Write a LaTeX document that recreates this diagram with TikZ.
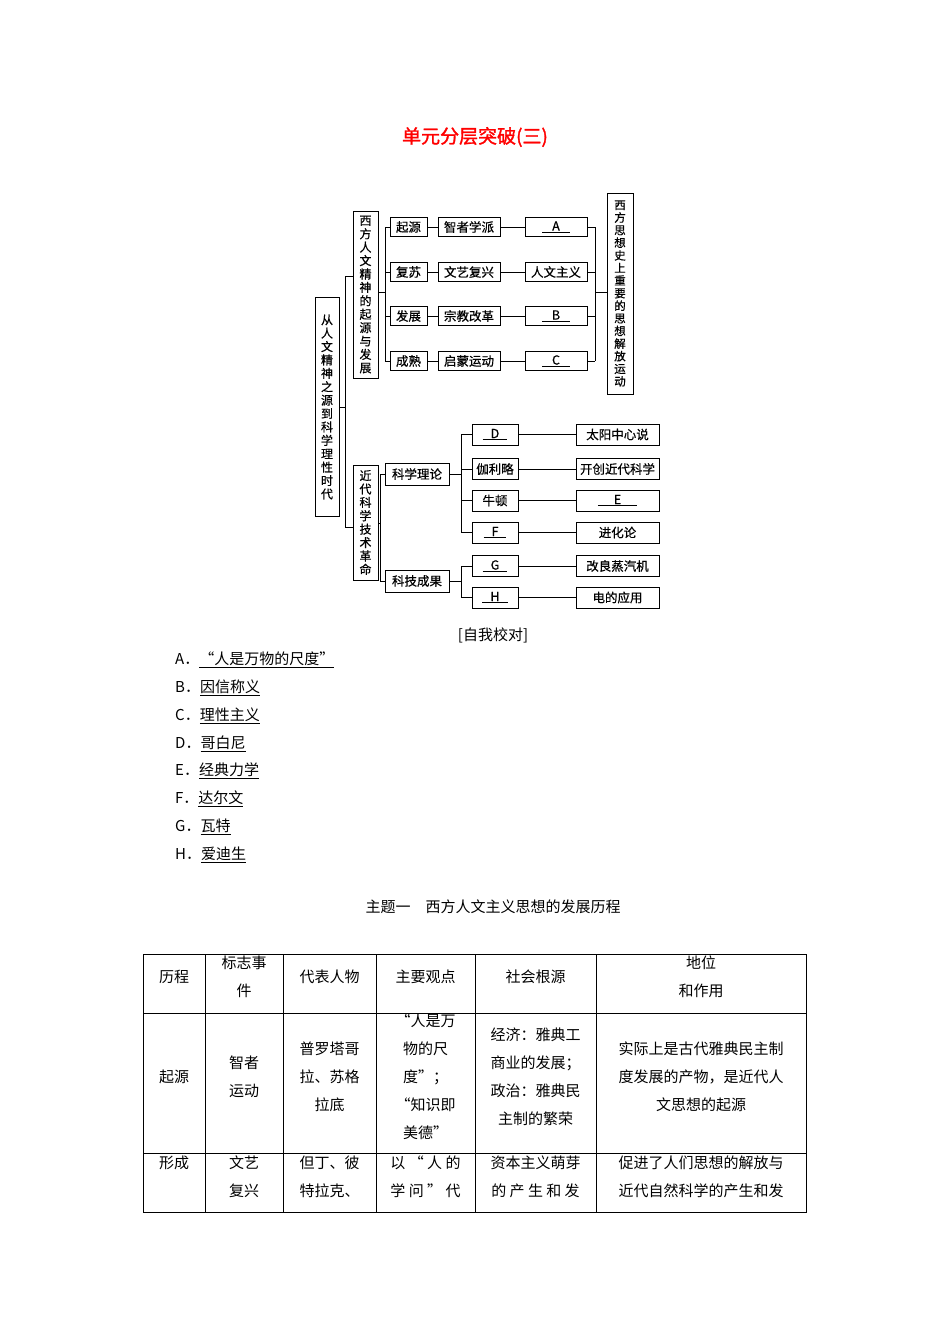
\documentclass[tikz,border=0pt]{standalone}
\usepackage{fontspec}
\newfontfamily\cjk{Noto Sans CJK SC}
\newfontfamily\cjkb[FakeBold=1.5]{Noto Sans CJK SC}
\newfontfamily\cjkm[FakeBold=0.6]{Noto Sans CJK SC}
\begin{document}
\begin{tikzpicture}[x=1pt,y=-1pt,
  bx/.style={draw,line width=0.9pt,inner sep=0pt,font=\cjkm\fontsize{12.5}{13}\selectfont},
  vb/.style={bx,align=center,font=\cjkm\fontsize{12}{13.4}\selectfont},
  ln/.style={line width=0.7pt},
  tx/.style={inner sep=0pt,align=center,font=\cjk\fontsize{15}{28}\selectfont},
  lt/.style={inner sep=0pt,anchor=west,font=\cjk\fontsize{15}{16}\selectfont}]
\useasboundingbox (0,0) rectangle (950,1344);
\node[font=\cjkb\fontsize{19}{22}\selectfont,text=red] (title) at (475,137) {单元分层突破(三)};
% left
\node[vb,minimum width=24,minimum height=219] (root) at (327,407) {从\\人\\文\\精\\神\\之\\源\\到\\科\\学\\理\\性\\时\\代};
\node[vb,minimum width=25,minimum height=167] (g1) at (365.5,294.5) {西\\方\\人\\文\\精\\神\\的\\起\\源\\与\\发\\展};
\node[vb,minimum width=25,minimum height=115] (g2) at (365.5,522.5) {近\\代\\科\\学\\技\\术\\革\\命};
\node[vb,minimum width=26,minimum height=201,font=\cjkm\fontsize{11.5}{12.6}\selectfont] (rt) at (620,293.5) {西\\方\\思\\想\\史\\上\\重\\要\\的\\思\\想\\解\\放\\运\\动};
\coordinate (j0) at (345,407);
\draw[ln] (root.east) -- (j0) (345,276) -- (345,527) (345,276) -- (g1.west|-0,276) (345,527)--(g2.west|-0,527);
% group1 rows
\foreach \y/\a/\b/\c/\n in {227/起源/智者学派/{\underline{\hspace{10pt}A\hspace{10pt}}}/1,272/复苏/文艺复兴/人文主义/2,316/发展/宗教改革/{\underline{\hspace{10pt}B\hspace{10pt}}}/3,361/成熟/启蒙运动/{\underline{\hspace{10pt}C\hspace{10pt}}}/4}{
  \node[bx,minimum width=37,minimum height=19] (p\n) at (408.5,\y) {\a};
  \node[bx,minimum width=62,minimum height=19] (q\n) at (469,\y) {\b};
  \node[bx,minimum width=62,minimum height=19] (r\n) at (556,\y) {\c};
  \draw[ln] (p\n) -- (q\n); \draw[ln] (q\n) -- (r\n);
  \draw[ln] (385,\y) -- (p\n.west);
  \draw[ln] (r\n.east) -- (595,\y);
}
\draw[ln] (385,227) -- (385,361) (g1.east|-0,292) -- (385,292);
\draw[ln] (595,227) -- (595,361) (595,292) -- (rt.west|-0,292);
% group2
\node[bx,minimum width=64,minimum height=22] (s1) at (417,474) {科学理论};
\node[bx,minimum width=64,minimum height=22] (s2) at (417,581) {科技成果};
\draw[ln] (380,474) -- (380,581) (g2.east|-0,523) -- (380,523) (380,474) -- (s1.west) (380,581) -- (s2.west);
\foreach \y/\a/\b/\n in {434.5/{\underline{\hspace{8pt}D\hspace{8pt}}}/太阳中心说/1,469/伽利略/开创近代科学/2,500.5/牛顿/{\underline{\hspace{16pt}E\hspace{16pt}}}/3,532.5/{\underline{\hspace{8pt}F\hspace{8pt}}}/进化论/4,566/{\underline{\hspace{8pt}G\hspace{8pt}}}/改良蒸汽机/5,597.5/{\underline{\hspace{8pt}H\hspace{8pt}}}/电的应用/6}{
  \node[bx,minimum width=46,minimum height=21] (u\n) at (495,\y) {\a};
  \node[bx,minimum width=83,minimum height=21] (v\n) at (617.5,\y) {\b};
  \draw[ln] (u\n) -- (v\n); \draw[ln] (461,\y) -- (u\n.west);
}
\draw[ln] (461,434.5) -- (461,532.5) (s1.east) -- (461,474);
\draw[ln] (461,566) -- (461,597.5) (s2.east) -- (461,581);
% answers
\node[tx,font=\cjk\fontsize{15}{16}\selectfont] (zw) at (493,635) {[自我校对]};
\foreach \i/\l/\t in {0/A/“人是万物的尺度”,1/B/因信称义,2/C/理性主义,3/D/哥白尼,4/E/经典力学,5/F/达尔文,6/G/瓦特,7/H/爱迪生}{
  \node[lt] (ans\i) at (175,660+27.8*\i) {\l．\underline{\t}};
}
\node[tx,font=\cjk\fontsize{15}{16}\selectfont] (zt) at (493,907) {主题一\quad 西方人文主义思想的发展历程};
% table
\draw[line width=0.8pt] (143,954) rectangle (806,1212);
\foreach \x in {205,283,376,475,596} \draw[line width=0.8pt] (\x,954) -- (\x,1212);
\draw[line width=0.8pt] (143,1013) -- (806,1013) (143,1153) -- (806,1153);
\node[tx] (h1) at (174,977) {历程};
\node[tx] (h2) at (244,977) {标志事\\件};
\node[tx] (h3) at (329.5,977) {代表人物};
\node[tx] (h4) at (425.5,977) {主要观点};
\node[tx] (h5) at (535.5,977) {社会根源};
\node[tx] (h6) at (701,977) {地位\\和作用};
\node[tx] (a1) at (174,1077) {起源};
\node[tx] (a2) at (244,1077) {智者\\运动};
\node[tx] (a3) at (329.5,1077) {普罗塔哥\\拉、苏格\\拉底};
\node[tx] (a4) at (425.5,1077) {“人是万\\物的尺\\度”；\\“知识即\\美德”};
\node[tx] (a5) at (535.5,1077) {经济：雅典工\\商业的发展；\\政治：雅典民\\主制的繁荣};
\node[tx] (a6) at (701,1077) {实际上是古代雅典民主制\\度发展的产物，是近代人\\文思想的起源};
\node[tx] (b1) at (174,1163) {形成};
\node[tx] (b2) at (244,1177) {文艺\\复兴};
\node[tx] (b3) at (329.5,1177) {但丁、彼\\特拉克、};
\node[tx] (b4) at (425.5,1177) {以 “ 人 的\\学 问 ” 代};
\node[tx] (b5) at (535.5,1177) {资本主义萌芽\\的 产 生 和 发};
\node[tx] (b6) at (701,1177) {促进了人们思想的解放与\\近代自然科学的产生和发};
\end{tikzpicture}
\end{document}
